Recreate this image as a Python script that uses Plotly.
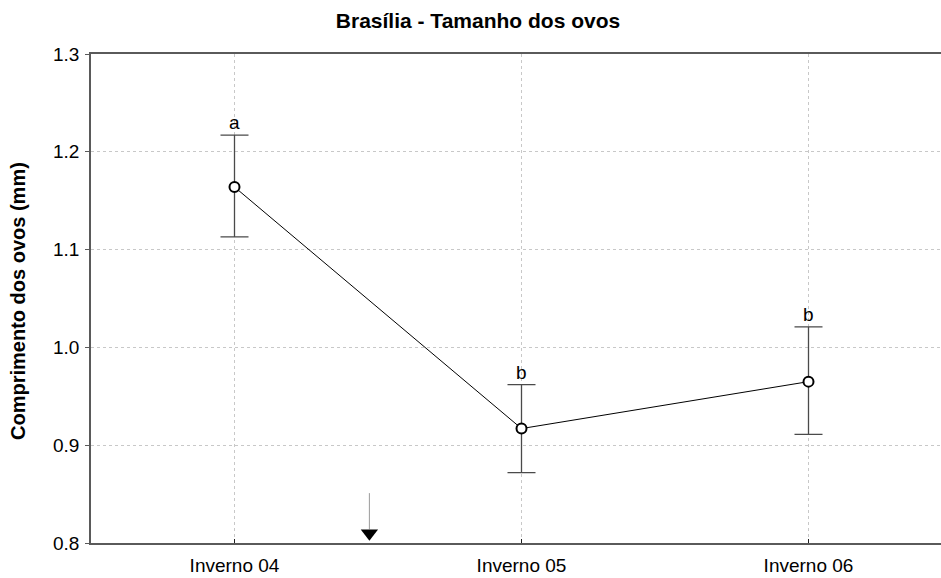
import plotly.graph_objects as go

# Egg length by winter season (mean with confidence interval)
seasons = ["Inverno 04", "Inverno 05", "Inverno 06"]
mean_len = [1.164, 0.917, 0.965]
upper_len = [1.217, 0.962, 1.021]
lower_len = [1.113, 0.872, 0.911]
group_letters = ["a", "b", "b"]

y_ticks = [0.8, 0.9, 1.0, 1.1, 1.2, 1.3]
y_tick_text = ["0.8", "0.9", "1.0", "1.1", "1.2", "1.3"]

# event marker between the first two seasons
event_x = 0.47
event_line_top = 0.851
event_tip = 0.810

x_pos = list(range(len(seasons)))
err_plus = [u - m for u, m in zip(upper_len, mean_len)]
err_minus = [m - l for m, l in zip(mean_len, lower_len)]

FONT = "Liberation Sans, Arial, sans-serif"
AXIS_COLOR = "#5a5a5a"

fig = go.Figure()

fig.add_trace(go.Scatter(
    x=x_pos, y=mean_len,
    mode="lines+markers",
    line=dict(color="black", width=1),
    marker=dict(symbol="circle", size=10, color="white",
                line=dict(color="black", width=2)),
    error_y=dict(type="data", symmetric=False, array=err_plus,
                 arrayminus=err_minus, color="#4a4a4a",
                 thickness=1.3, width=14),
    showlegend=False, cliponaxis=False,
))

# event marker: thin line with a solid triangle on the axis
fig.add_trace(go.Scatter(
    x=[event_x, event_x], y=[event_line_top, event_tip + 0.004],
    mode="lines", line=dict(color="#9a9a9a", width=1),
    showlegend=False, hoverinfo="skip",
))
fig.add_trace(go.Scatter(
    x=[event_x], y=[event_tip],
    mode="markers",
    marker=dict(symbol="triangle-down", size=15, color="black"),
    showlegend=False, cliponaxis=False, hoverinfo="skip",
))

for xi, up, letter in zip(x_pos, upper_len, group_letters):
    fig.add_annotation(x=xi, y=up, text=letter, showarrow=False,
                       yanchor="bottom", yshift=0,
                       font=dict(family=FONT, size=19, color="black"))

fig.add_annotation(
    text="<b>Comprimento dos ovos (mm)</b>", textangle=-90,
    xref="paper", yref="paper", x=-73 / 850, y=0.495,
    xanchor="center", yanchor="middle", showarrow=False,
    font=dict(family=FONT, size=20, color="black"),
)

fig.update_layout(
    width=941, height=578,
    margin=dict(l=91, r=0, t=54, b=35),
    paper_bgcolor="white", plot_bgcolor="white",
    font=dict(family=FONT, size=19, color="black"),
    title=dict(text="<b>Brasília - Tamanho dos ovos</b>",
               x=478 / 941, xref="container", xanchor="center",
               y=1 - 21 / 578, yref="container", yanchor="middle",
               font=dict(family=FONT, size=21, color="black")),
)

fig.update_xaxes(
    range=[-0.5, -0.5 + 850 / 287],
    tickvals=x_pos, ticktext=seasons,
    ticks="inside", ticklen=4, tickcolor="#202020",
    ticklabelstandoff=4,
    showline=True, linecolor=AXIS_COLOR, linewidth=1.5, mirror=True,
    showgrid=True, gridcolor="#c8c8c8", griddash="dot", gridwidth=1,
    zeroline=False,
)
fig.update_yaxes(
    range=[0.8, 1.3],
    tickvals=y_ticks, ticktext=y_tick_text,
    ticks="outside", ticklen=4, tickcolor=AXIS_COLOR,
    ticklabelstandoff=2,
    showline=True, linecolor=AXIS_COLOR, linewidth=1.5, mirror=False,
    showgrid=True, gridcolor="#c8c8c8", griddash="dot", gridwidth=1,
    zeroline=False,
)

fig.write_html("out.html")
